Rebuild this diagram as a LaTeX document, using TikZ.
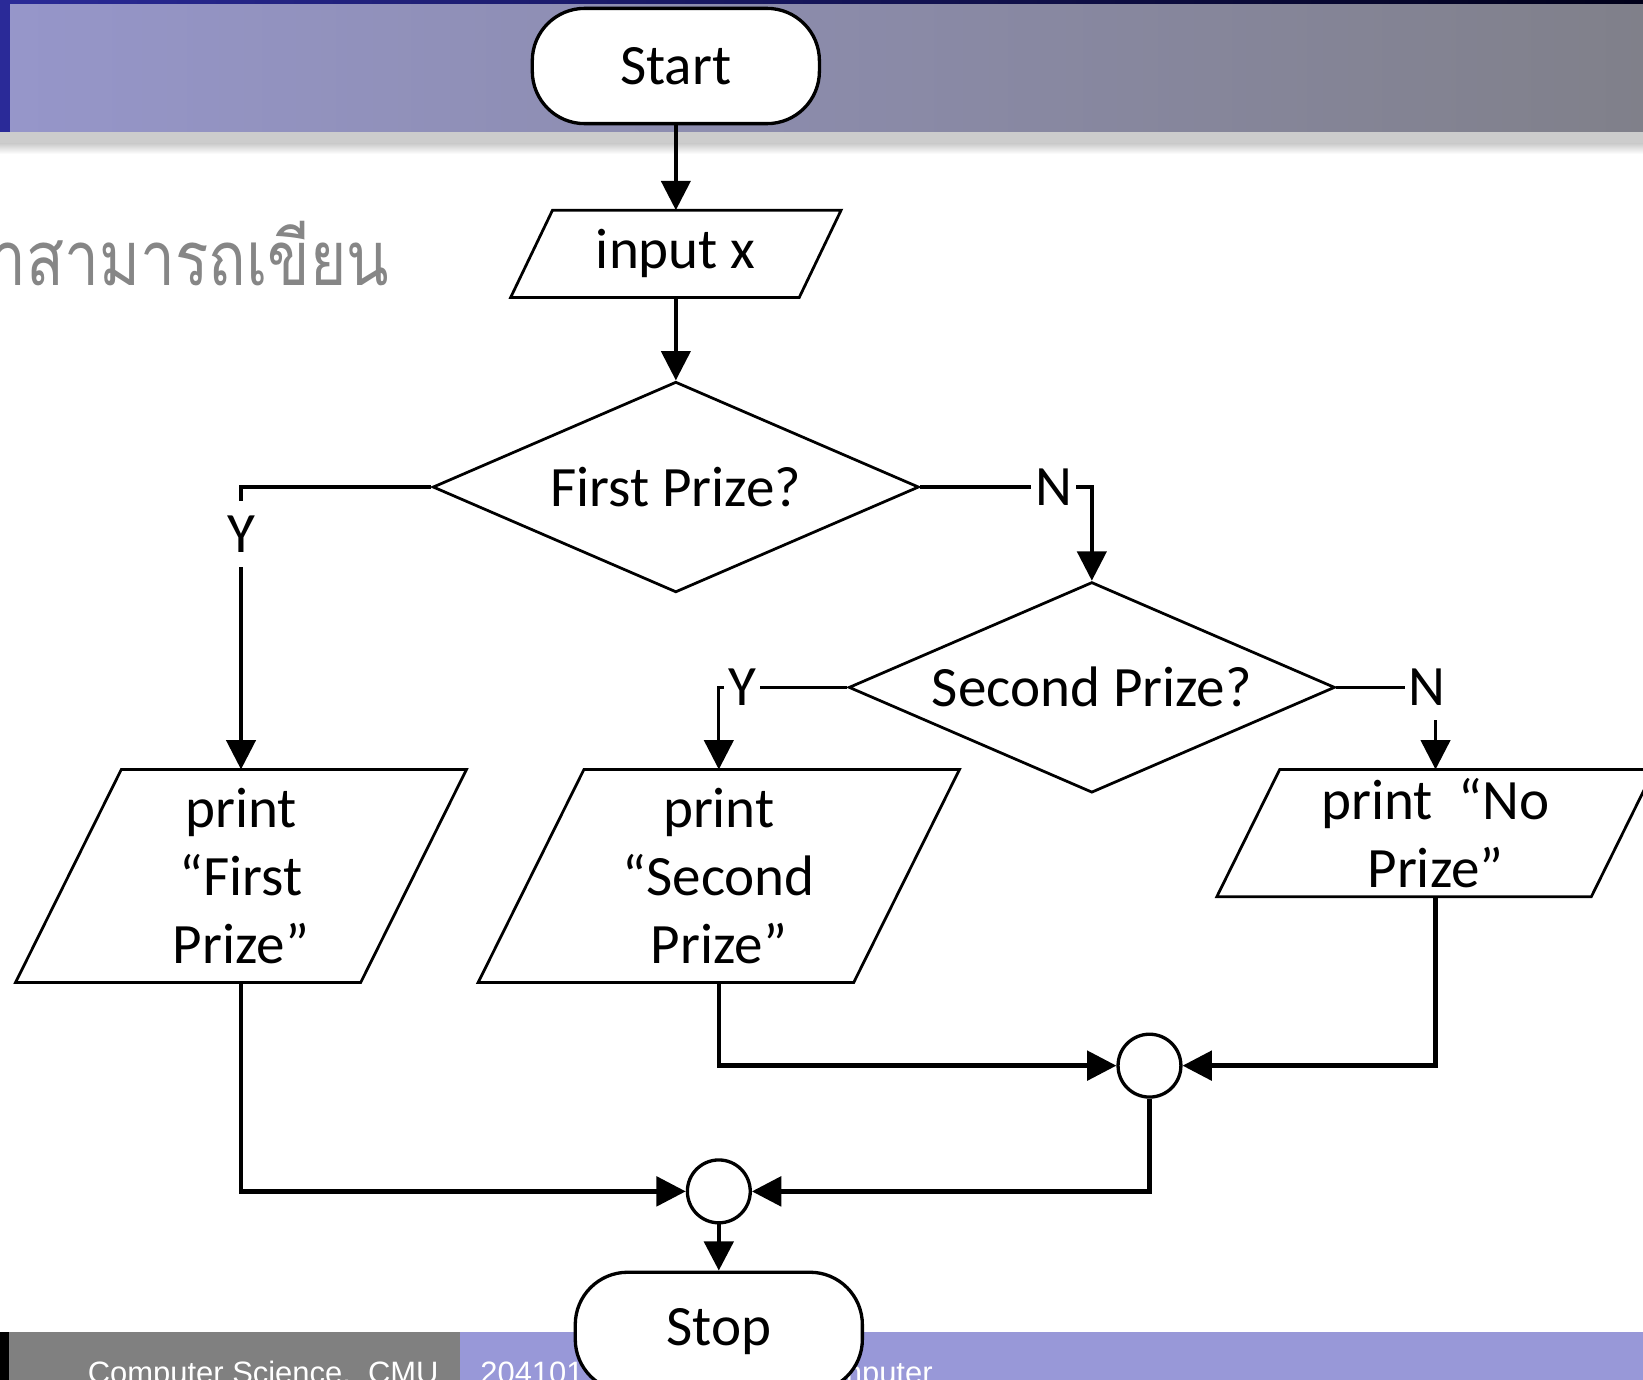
\documentclass[tikz,border=0pt]{standalone}
\usepackage{fontspec}
\setmainfont{Carlito}
\newfontfamily\thaifont[Script=Thai, FakeStretch=0.82]{Loma}
\newfontfamily\footfont{Liberation Sans}
\usetikzlibrary{positioning, arrows.meta, shapes.geometric}
\definecolor{barleft}{RGB}{150,150,202}
\definecolor{barright}{RGB}{128,128,138}
\definecolor{barnavy}{RGB}{42,42,152}
\definecolor{footgray}{RGB}{128,128,128}
\definecolor{footlav}{RGB}{152,152,216}

\begin{document}
\begin{tikzpicture}[
        node distance=1cm,
        every node/.style={font=\fontsize{15.5}{18.5}\selectfont},
        terminal/.style={rectangle, draw, fill=white, rounded corners=0.5cm, line width=0.9pt, minimum width=2.74cm, minimum height=1.1cm},
        io/.style={rectangle, inner sep=0pt, align=center,
            append after command={\pgfextra{\draw[line width=0.75pt]
                ([xshift=#1]\tikzlastnode.north west) -- ([xshift=#1]\tikzlastnode.north east)
                -- ([xshift=-#1]\tikzlastnode.south east) -- ([xshift=-#1]\tikzlastnode.south west) -- cycle;}}},
        decision/.style={diamond, draw, fill=white, line width=0.75pt, aspect=2.3, inner sep=0pt, minimum width=4.64cm, minimum height=2.01cm},
        joint/.style={circle, draw, fill=white, line width=0.9pt, minimum size=0.6cm, inner sep=0pt},
        arrow/.style={line width=0.9pt, -{Triangle[length=2.8mm, width=2.8mm]}},
        thickarrow/.style={arrow, line width=1.2pt},
        yn/.style={fill=white, inner xsep=1pt, inner ysep=4pt}
    ]
    \useasboundingbox (0,0) rectangle (15.68,-13.17);
    \clip (0,0) rectangle (15.68,-13.17);
    % slide background
    \shade[left color=barleft, right color=barright] (0,0) rectangle (15.68,-1.26);
    \shade[left color=barnavy, right color=black!90!blue] (0,0) rectangle (15.68,-0.03);
    \fill[barnavy] (0,0) rectangle (0.095,-1.26);
    \fill[black!20] (0,-1.26) rectangle (15.68,-1.37);
    \shade[top color=black!20, bottom color=white] (0,-1.37) rectangle (15.68,-1.47);
    \node[anchor=base east, text=footgray!95!white, font=\thaifont\fontsize{20.6}{24}\selectfont] (title) at (3.84,-2.72) {ถ้าสามารถเขียน};
    \fill[black] (0,-12.71) rectangle (0.09,-13.17);
    \fill[footgray] (0.09,-12.71) rectangle (4.39,-13.17);
    \fill[footlav] (4.39,-12.71) rectangle (15.68,-13.17);
    \node[anchor=base east, text=white, font=\footfont\fontsize{8.4}{10}\selectfont] (school) at (4.31,-13.20) {Computer Science,~~CMU};
    \node[anchor=base west, text=white, font=\footfont\fontsize{8.4}{10}\selectfont] (course) at (4.46,-13.20) {204101 Introduction to Computer};

    % flowchart
    \node[terminal] (start) at (6.45,-0.63) {Start};
    \node[io=0.2cm, below=0.81cm of start, minimum width=2.74cm, minimum height=0.82cm] (input) {input x};
    \node[decision, below=0.79cm of input] (first) {First Prize?};
    \node[decision] (second) at (10.42,-6.56) {Second Prize?};
    \node[io=0.505cm, minimum width=3.28cm, minimum height=2.02cm] (pfirst) at (2.30,-8.36) {print\\“First\\Prize”};
    \node[io=0.505cm, minimum width=3.57cm, minimum height=2.02cm] (psecond) at (6.86,-8.36) {print\\“Second\\Prize”};
    \node[io=0.3cm, minimum width=3.56cm, minimum height=1.2cm] (pnone) at (13.70,-7.95) {print~~“No\\Prize”};
    \node[joint] (join1) at (10.97,-10.17) {};
    \node[joint] (join2) at (6.86,-11.37) {};
    \node[terminal, below=0.44cm of join2, minimum height=1.14cm] (stop) {Stop};

    \draw[arrow] (start) -- (input);
    \draw[arrow] (input) -- (first);
    \draw[arrow] (first.west) -| node[yn, pos=0.583] (yfirst) {Y} (pfirst.north);
    \draw[arrow] (first.east) -| node[yn, pos=0.388] (nfirst) {N} (second.north);
    \draw[arrow] (second.west) -| node[yn, pos=0.41] (ysecond) {Y} (psecond.north);
    \draw[arrow] (second.east) -| node[yn, pos=0.458] (nsecond) {N} (pnone.north);
    \draw[thickarrow] (psecond.south) |- (join1.west);
    \draw[thickarrow] (pnone.south) |- (join1.east);
    \draw[thickarrow] (pfirst.south) |- (join2.west);
    \draw[thickarrow] (join1.south) |- (join2.east);
    \draw[thickarrow] (join2) -- (stop);
\end{tikzpicture}
\end{document}
